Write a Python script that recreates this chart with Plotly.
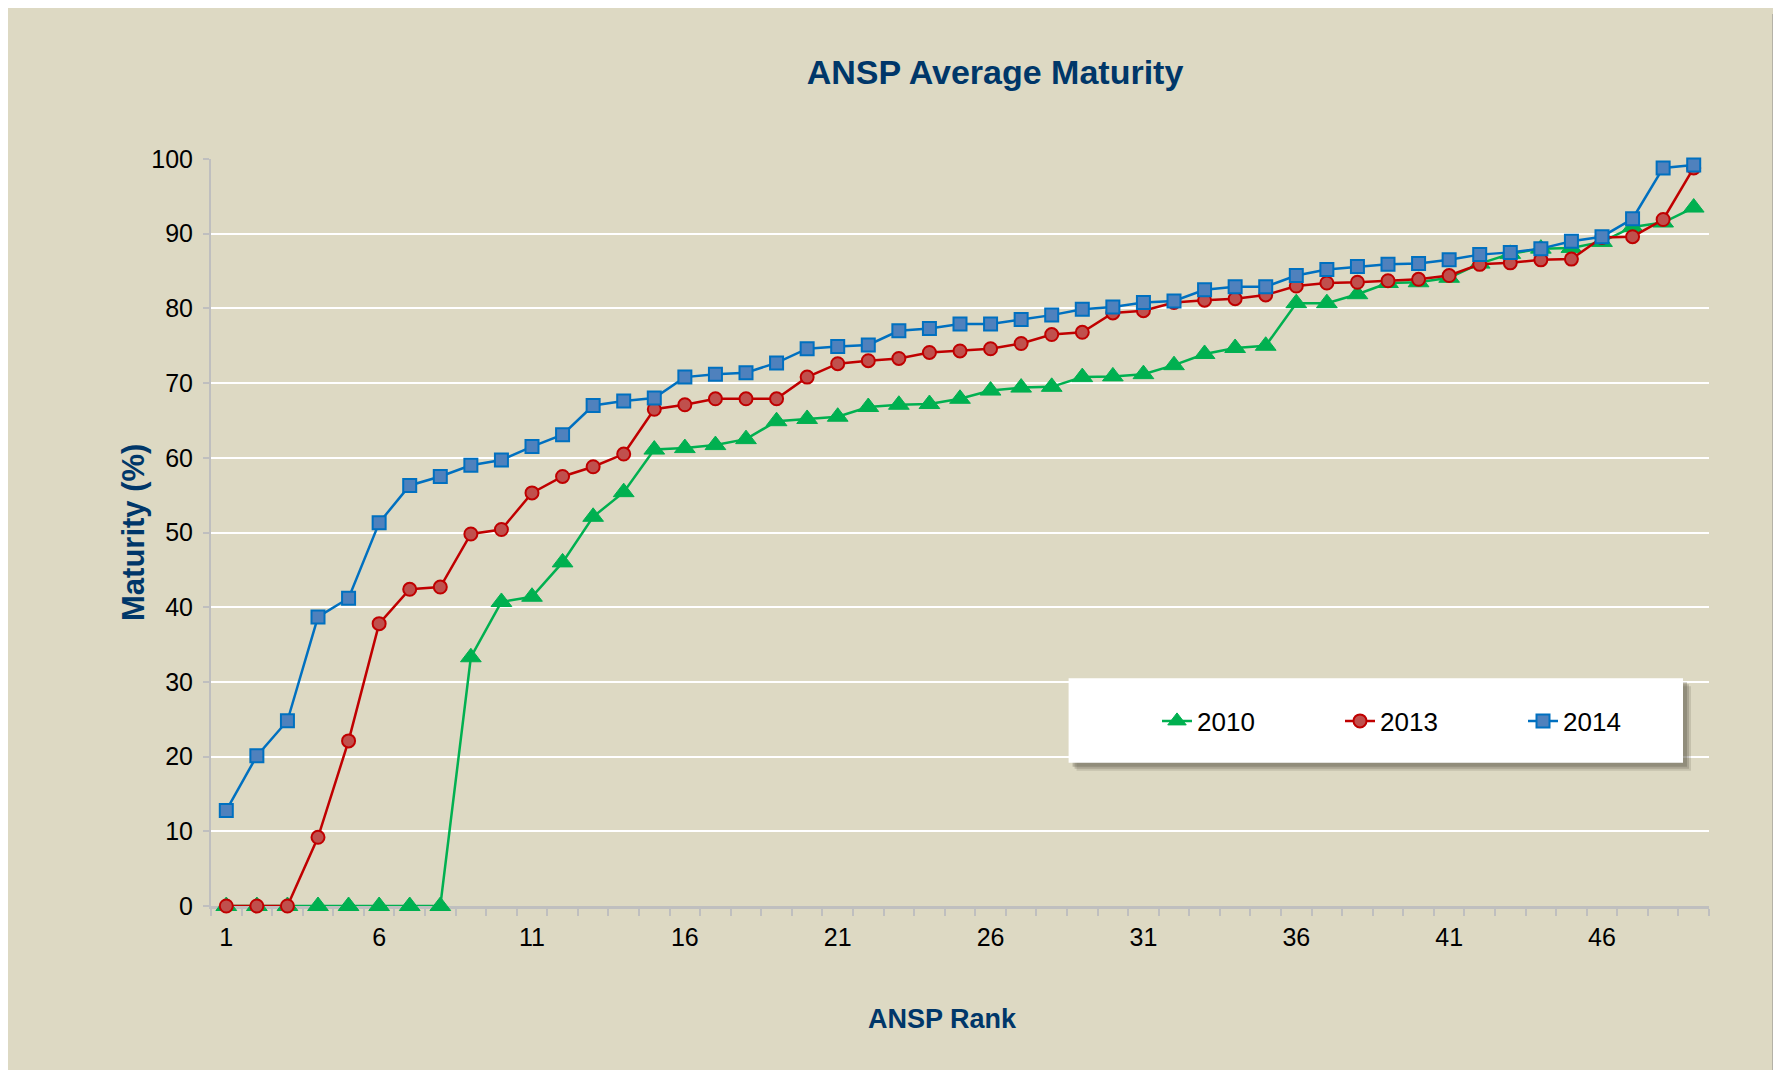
import plotly.graph_objects as go

# ---------------- data ----------------
ranks = list(range(1, 50))
x_tick_vals = [1, 6, 11, 16, 21, 26, 31, 36, 41, 46]
y_tick_vals = [0, 10, 20, 30, 40, 50, 60, 70, 80, 90, 100]

series_names = ["2010", "2013", "2014"]

mat_2010 = [0, 0, 0, 0, 0, 0, 0, 0, 33.3, 40.7,
            41.4, 46.0, 52.1, 55.4, 61.1, 61.3, 61.7, 62.5, 64.9, 65.2,
            65.5, 66.8, 67.1, 67.2, 67.9, 69.0, 69.4, 69.5, 70.8, 70.9,
            71.2, 72.4, 73.9, 74.7, 75.0, 80.7, 80.7, 81.9, 83.4, 83.5,
            84.1, 86.0, 87.3, 88.0, 88.1, 88.9, 90.9, 91.5, 93.5]

mat_2013 = [0, 0, 0, 9.2, 22.1, 37.8, 42.4, 42.7, 49.8, 50.4,
            55.3, 57.5, 58.8, 60.5, 66.5, 67.1, 67.9, 67.9, 67.9, 70.8,
            72.6, 73.0, 73.3, 74.1, 74.3, 74.6, 75.3, 76.5, 76.8, 79.4,
            79.7, 80.8, 81.1, 81.3, 81.8, 83.0, 83.4, 83.5, 83.7, 83.9,
            84.4, 85.9, 86.1, 86.5, 86.6, 89.5, 89.6, 91.9, 98.8]

mat_2014 = [12.8, 20.1, 24.8, 38.7, 41.2, 51.3, 56.3, 57.5, 59.0, 59.7,
            61.5, 63.1, 67.0, 67.6, 68.0, 70.8, 71.2, 71.4, 72.7, 74.6,
            74.9, 75.1, 77.0, 77.3, 77.9, 77.9, 78.5, 79.1, 79.9, 80.2,
            80.8, 81.0, 82.5, 82.9, 82.9, 84.4, 85.2, 85.6, 85.9, 86.0,
            86.5, 87.2, 87.5, 88.0, 89.0, 89.6, 92.0, 98.8, 99.2]

# ---------------- layout constants ----------------
# page body margin of 8px shifts the figure; work in screen pixels
OFF = 8
W, H = 1781 - OFF, 1070 - OFF
ML, MR, MT, MB = 211 - OFF, 72, 159 - OFF, 164
PW = W - ML - MR
PH = H - MT - MB

BG = "#DDD9C3"
NAVY = "#003769"
FONT = "Liberation Sans, Arial, sans-serif"


def px_x(p):
    return (p - OFF - ML) / PW


def px_y(p):
    return (H - MB - (p - OFF)) / PH


fig = go.Figure()

styles = [
    dict(line=dict(color="#00B050", width=2.5),
         marker=dict(symbol="triangle-up", size=18, color="#00B050",
                     line=dict(color="#00B050", width=1))),
    dict(line=dict(color="#C00000", width=2.5),
         marker=dict(symbol="circle", size=13, color="#C0504D",
                     line=dict(color="#C00000", width=2))),
    dict(line=dict(color="#0070C0", width=2.5),
         marker=dict(symbol="square", size=13, color="#4F81BD",
                     line=dict(color="#0070C0", width=2))),
]

for name, vals, st in zip(series_names, [mat_2010, mat_2013, mat_2014], styles):
    fig.add_trace(go.Scatter(x=ranks, y=vals, name=name, mode="lines+markers",
                             line=st["line"], marker=st["marker"],
                             cliponaxis=False))

shapes = []
# right dark shadow of the frame
for (a, b, c) in [(1772.5, 1775, "#8C8C8C"), (1775, 1778, "#6E6E6E"), (1778, 1782, "#5A5A5A")]:
    shapes.append(dict(type="rect", xref="paper", yref="paper", layer="below",
                       x0=px_x(a), x1=px_x(b), y0=px_y(14), y1=px_y(1075),
                       fillcolor=c, line=dict(width=0)))
# legend box shadow + box
for (off, op) in [(8, 0.18), (6, 0.25), (4, 0.3)]:
    shapes.append(dict(type="rect", xref="paper", yref="paper", layer="above",
                       x0=px_x(1068.6 + off), x1=px_x(1683 + off),
                       y0=px_y(678.3 + off), y1=px_y(762.7 + off),
                       fillcolor="rgba(90,85,70,%.2f)" % op, line=dict(width=0)))
shapes.append(dict(type="rect", xref="paper", yref="paper", layer="above",
                   x0=px_x(1068.6), x1=px_x(1683), y0=px_y(678.3), y1=px_y(762.7),
                   fillcolor="white", line=dict(width=0)))

annotations = [
    dict(text="ANSP Rank", xref="paper", yref="paper", x=px_x(942), y=px_y(1019),
         xanchor="center", yanchor="middle", showarrow=False,
         font=dict(family=FONT, size=27, color=NAVY, weight="bold")),
    dict(text="Maturity (%)", xref="paper", yref="paper", x=px_x(133), y=px_y(533),
         xanchor="center", yanchor="middle", showarrow=False, textangle=-90,
         font=dict(family=FONT, size=31, color=NAVY, weight="bold")),
]

fig.update_layout(
    width=W, height=H,
    margin=dict(l=ML, r=MR, t=MT, b=MB, autoexpand=False),
    paper_bgcolor=BG,
    plot_bgcolor=BG,
    title=dict(text="ANSP Average Maturity", x=px_x(995), xref="paper",
               y=1 - (72 - OFF) / H, yref="container", xanchor="center", yanchor="middle",
               font=dict(family=FONT, size=34, color=NAVY, weight="bold")),
    xaxis=dict(range=[0.5, 49.5], tickmode="array", tickvals=x_tick_vals,
               ticks="", showgrid=False, zeroline=False, layer="below traces",
               showline=True, linecolor="#BFBFBF", linewidth=2.5,
               tickfont=dict(family=FONT, size=25, color="black"),
               ticklabelstandoff=7,
               minor=dict(ticks="outside", tickmode="linear", tick0=0.5, dtick=1,
                          ticklen=7, tickwidth=2, tickcolor="#BFBFBF", showgrid=False)),
    yaxis=dict(range=[0, 100], tickmode="array", tickvals=y_tick_vals,
               ticks="outside", ticklen=6, tickwidth=2, tickcolor="#BFBFBF",
               showgrid=True, gridcolor="white", gridwidth=2, zeroline=False,
               layer="below traces",
               showline=True, linecolor="#BFBFBF", linewidth=2,
               tickfont=dict(family=FONT, size=25, color="black"),
               ticklabelstandoff=5),
    legend=dict(orientation="h", x=px_x(1157), xanchor="left",
                y=px_y(721), yanchor="middle", bgcolor="rgba(0,0,0,0)",
                font=dict(family=FONT, size=26, color="black"),
                entrywidth=138, itemwidth=30),
    shapes=shapes,
    annotations=annotations,
)

fig.write_html("out.html")
